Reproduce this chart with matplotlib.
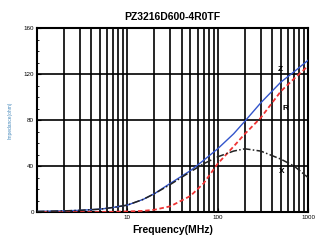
import matplotlib.pyplot as plt
from matplotlib.ticker import FixedLocator, MultipleLocator, NullFormatter

# impedance curve data
freq_mhz = [1, 2, 3, 5, 7, 10, 15, 20, 30, 50, 70, 100, 150, 200, 300, 500, 700, 1000]
z_ohm = [0.5, 1, 1.5, 2.5, 4, 6, 11, 16, 25, 36, 45, 55, 68, 79, 95, 113, 122, 132]
r_ohm = [0, 0, 0, 0, 0.2, 0.5, 1, 2, 5, 14, 25, 42, 57, 68, 82, 105, 116, 127]
x_ohm = [0.5, 1, 1.5, 2.5, 4, 6, 11, 16, 24, 35, 42, 48, 53, 55, 53, 46, 40, 30]

x_ticks = [10, 100, 1000]
x_tick_labels = ["10", "100", "1000"]
y_ticks = [0, 40, 80, 120, 160]

plt.rcParams['font.family'] = ['Liberation Sans', 'DejaVu Sans']

fig = plt.figure(figsize=(3.15, 2.44), dpi=100)
ax = fig.add_axes([0.117, 0.131, 0.861, 0.754])

# grid: every 1-9 per decade vertically, every 40 horizontally
grid_x = [m * 10 ** d for d in range(3) for m in range(2, 10)] + [10, 100]
for gx in grid_x:
    ax.axvline(gx, color='black', lw=1.2, zorder=1)
for gy in [40, 80, 120]:
    ax.axhline(gy, color='black', lw=1.2, zorder=1)

ax.plot(freq_mhz, z_ohm, color='#3355cc', lw=1.0, zorder=3)
ax.plot(freq_mhz, r_ohm, color='#ee3333', lw=1.3, ls=(0, (2.5, 1.5)), zorder=3)
ax.plot(freq_mhz, x_ohm, color='#222222', lw=1.1, ls=(0, (5, 1.5, 1, 1.5)), zorder=3)

ax.text(490, 124, "Z", fontsize=6, fontweight='bold', ha='center', va='center')
ax.text(557, 90, "R", fontsize=6, fontweight='bold', ha='center', va='center')
ax.text(517, 35, "X", fontsize=6, fontweight='bold', ha='center', va='center')

ax.set_xscale('log')
ax.set_xlim(1, 1000)
ax.set_ylim(0, 160)
ax.xaxis.set_major_locator(FixedLocator(x_ticks))
ax.set_xticklabels(x_tick_labels)
ax.xaxis.set_minor_formatter(NullFormatter())
ax.set_yticks(y_ticks)
ax.yaxis.set_minor_locator(MultipleLocator(10))
ax.tick_params(axis='both', which='major', labelsize=4.5, direction='in', length=3, width=0.8, pad=2)
ax.tick_params(axis='both', which='minor', direction='in', length=1.5, width=0.6)
ax.tick_params(axis='x', which='minor', length=0)

for sp in ax.spines.values():
    sp.set_linewidth(1.5)

ax.set_title("PZ3216D600-4R0TF", fontsize=7.5, fontweight='bold', pad=6)
ax.set_xlabel("Frequency(MHz)", fontsize=7.5, fontweight='bold', labelpad=4)
ax.set_ylabel("Impedance(ohm)", fontsize=3.5, color='#4488bb', labelpad=8)

fig.savefig("out.png", dpi=100)
